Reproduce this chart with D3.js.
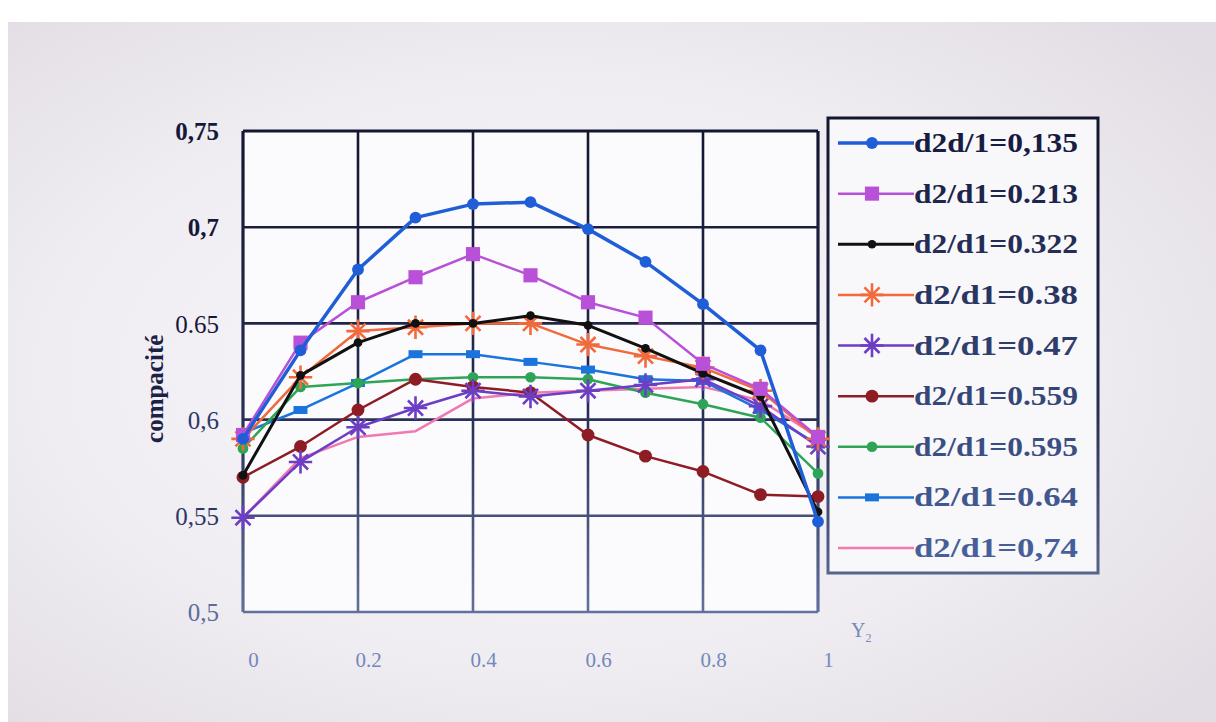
<!DOCTYPE html>
<html>
<head>
<meta charset="utf-8">
<script src="https://cdn.jsdelivr.net/npm/d3@7/dist/d3.min.js"></script>
<style>
  html, body { margin: 0; padding: 0; background: #ffffff; }
  svg { display: block; }
</style>
</head>
<body>
<svg id="chart" width="1216" height="722"></svg>
<script>
// ---------- data ----------
const xValues = [0, 0.1, 0.2, 0.3, 0.4, 0.5, 0.6, 0.7, 0.8, 0.9, 1];
const s0135 = [0.590, 0.636, 0.678, 0.705, 0.712, 0.713, 0.699, 0.682, 0.660, 0.636, 0.547];
const s0213 = [0.592, 0.640, 0.661, 0.674, 0.686, 0.675, 0.661, 0.653, 0.629, 0.616, 0.591];
const s0322 = [0.571, 0.623, 0.640, 0.650, 0.650, 0.654, 0.649, 0.637, 0.624, 0.612, 0.552];
const s038  = [0.590, 0.622, 0.646, 0.648, 0.650, 0.650, 0.639, 0.633, 0.627, 0.615, 0.590];
const s047  = [0.549, 0.578, 0.596, 0.606, 0.615, 0.612, 0.615, 0.618, 0.621, 0.607, 0.586];
const s0559 = [0.570, 0.586, 0.605, 0.621, 0.617, 0.614, 0.592, 0.581, 0.573, 0.561, 0.560];
const s0595 = [0.585, 0.617, 0.619, 0.621, 0.622, 0.622, 0.621, 0.614, 0.608, 0.601, 0.572];
const s064  = [0.593, 0.605, 0.619, 0.634, 0.634, 0.630, 0.626, 0.621, 0.620, 0.605, 0.587];
const s074  = [0.549, 0.580, 0.591, 0.594, 0.611, 0.614, 0.615, 0.616, 0.617, 0.610, 0.591];
const seriesNames = ["d2d/1=0,135", "d2/d1=0.213", "d2/d1=0.322", "d2/d1=0.38", "d2/d1=0.47",
                     "d2/d1=0.559", "d2/d1=0.595", "d2/d1=0.64", "d2/d1=0,74"];
const yTickValues = [0.5, 0.55, 0.6, 0.65, 0.7, 0.75];
const yTickLabels = ["0,5", "0,55", "0,6", "0.65", "0,7", "0,75"];
const xTickValues = [0, 0.2, 0.4, 0.6, 0.8, 1];
const xTickLabels = ["0", "0.2", "0.4", "0.6", "0.8", "1"];
const yTitle = "compacité";

// ---------- styles ----------
const seriesData = [s0135, s0213, s0322, s038, s047, s0559, s0595, s064, s074];
const styles = [
  { color: "#1f5ed6", width: 3.5, marker: "circle", size: 110 },
  { color: "#b850d8", width: 2.5, marker: "square", size: 200 },
  { color: "#111111", width: 3,   marker: "circle", size: 60 },
  { color: "#f26a3c", width: 2.5, marker: "star",   size: 150 },
  { color: "#6b3ec4", width: 2.5, marker: "star",   size: 150 },
  { color: "#8e1c24", width: 2.5, marker: "circle", size: 130 },
  { color: "#2ea456", width: 2.5, marker: "circle", size: 90 },
  { color: "#1b74dc", width: 2.5, marker: "rect",   size: 70 },
  { color: "#f07ab0", width: 2.5, marker: "none",   size: 0 }
];

const svg = d3.select("#chart");
const defs = svg.append("defs");

// photo-like background
const bg = defs.append("radialGradient").attr("id", "bgGrad")
  .attr("cx", "45%").attr("cy", "50%").attr("r", "70%");
bg.append("stop").attr("offset", "0%").attr("stop-color", "#f8f7fa");
bg.append("stop").attr("offset", "60%").attr("stop-color", "#efedf1");
bg.append("stop").attr("offset", "100%").attr("stop-color", "#e2dde4");
svg.append("rect").attr("width", 1216).attr("height", 722).attr("fill", "#ffffff");
svg.append("rect").attr("x", 8).attr("y", 22).attr("width", 1208).attr("height", 700).attr("fill", "url(#bgGrad)");

// grid gradient (dark at top, faded at bottom)
const gg = defs.append("linearGradient").attr("id", "gridGrad")
  .attr("gradientUnits", "userSpaceOnUse").attr("x1", 0).attr("y1", 120).attr("x2", 0).attr("y2", 640);
gg.append("stop").attr("offset", "0%").attr("stop-color", "#131630");
gg.append("stop").attr("offset", "55%").attr("stop-color", "#262c52");
gg.append("stop").attr("offset", "100%").attr("stop-color", "#6a7aa6");

const tg = defs.append("linearGradient").attr("id", "textGrad")
  .attr("gradientUnits", "userSpaceOnUse").attr("x1", 0).attr("y1", 120).attr("x2", 0).attr("y2", 580);
tg.append("stop").attr("offset", "0%").attr("stop-color", "#15183a");
tg.append("stop").attr("offset", "100%").attr("stop-color", "#4a64a0");

const x = d3.scaleLinear().domain([0, 1]).range([243, 818]);
const y = d3.scaleLinear().domain([0.5, 0.75]).range([612, 131]);

// legend box (drawn first so markers at x=1 sit over it)
const lgX = 828, lgY = 118, lgW = 270, lgH = 455;
svg.append("rect").attr("x", lgX).attr("y", lgY).attr("width", lgW).attr("height", lgH)
  .attr("fill", "#f8f8fa").attr("stroke", "url(#gridGrad)").attr("stroke-width", 3);

// plot area background
svg.append("rect").attr("x", x(0)).attr("y", y(0.75))
  .attr("width", x(1) - x(0)).attr("height", y(0.5) - y(0.75)).attr("fill", "#fbfbfd");

// gridlines
const grid = svg.append("g").attr("stroke", "url(#gridGrad)").attr("fill", "none");
grid.selectAll("line.h").data(yTickValues).join("line")
  .attr("x1", x(0)).attr("x2", x(1)).attr("y1", d => y(d)).attr("y2", d => y(d))
  .attr("stroke-width", d => d === 0.75 ? 3.2 : 2.6);
grid.selectAll("line.v").data(xTickValues).join("line")
  .attr("class", "v")
  .attr("x1", d => x(d)).attr("x2", d => x(d)).attr("y1", y(0.75)).attr("y2", y(0.5))
  .attr("stroke-width", d => (d === 0 || d === 1) ? 3.2 : 2.6);

// axes (labels only)
const yAxis = d3.axisLeft(y).tickValues(yTickValues).tickSize(0).tickPadding(0)
  .tickFormat((d, i) => yTickLabels[i]);
const gy = svg.append("g").attr("transform", `translate(${x(0) - 24},0)`).call(yAxis);
gy.select(".domain").remove();
gy.selectAll("text")
  .attr("font-family", "'Liberation Serif', 'DejaVu Serif', serif")
  .attr("font-size", 25)
  .attr("font-weight", (d) => d >= 0.7 ? "bold" : "normal")
  .attr("fill", d => d >= 0.65 ? "#15183a" : (d >= 0.55 ? "#2c3766" : "#5a6e9c"))
  .attr("dy", "0.35em");

const xAxis = d3.axisBottom(x).tickValues(xTickValues).tickSize(0).tickPadding(0)
  .tickFormat((d, i) => xTickLabels[i]);
const gx = svg.append("g").attr("transform", `translate(10,${y(0.5) + 40})`).call(xAxis);
gx.select(".domain").remove();
gx.selectAll("text")
  .attr("font-family", "'Liberation Serif', 'DejaVu Serif', serif")
  .attr("font-size", 21)
  .attr("fill", "#7388bb");

// x-axis name Y2
const yl = svg.append("text").attr("x", 851).attr("y", 637)
  .attr("font-family", "'Liberation Serif', serif").attr("font-size", 20).attr("fill", "#7388bb");
yl.append("tspan").text("Y");
yl.append("tspan").attr("font-size", 12).attr("dy", 5).text("2");

// y title
svg.append("text")
  .attr("transform", `translate(163,${y(0.616)}) rotate(-90)`)
  .attr("text-anchor", "middle")
  .attr("font-family", "'Liberation Serif', serif").attr("font-size", 25).attr("font-weight", "bold")
  .attr("fill", "#1c2148")
  .text(yTitle);

// marker drawing helper
function drawMarker(g, st, cx, cy) {
  if (st.marker === "circle") {
    g.append("path").attr("transform", `translate(${cx},${cy})`)
      .attr("d", d3.symbol(d3.symbolCircle, st.size)()).attr("fill", st.color);
  } else if (st.marker === "square") {
    g.append("path").attr("transform", `translate(${cx},${cy})`)
      .attr("d", d3.symbol(d3.symbolSquare, st.size)()).attr("fill", st.color);
  } else if (st.marker === "rect") {
    g.append("rect").attr("x", cx - 7).attr("y", cy - 4).attr("width", 14).attr("height", 8).attr("fill", st.color);
  } else if (st.marker === "star") {
    g.append("path").attr("transform", `translate(${cx},${cy})`)
      .attr("d", d3.symbol(d3.symbolTimes, st.size)()).attr("stroke", st.color).attr("stroke-width", 2.6).attr("fill", "none");
    g.append("path").attr("transform", `translate(${cx},${cy})`)
      .attr("d", d3.symbol(d3.symbolPlus, st.size * 1.2)()).attr("stroke", st.color).attr("stroke-width", 2.6).attr("fill", "none");
    g.append("path").attr("transform", `translate(${cx},${cy})`)
      .attr("d", d3.symbol(d3.symbolCircle, 30)()).attr("fill", st.color);
  }
}

// series (draw in reverse so first series is on top)
const line = d3.line().x((d, i) => x(xValues[i])).y(d => y(d));
const order = d3.range(seriesData.length).reverse();
order.forEach(k => {
  const st = styles[k];
  const g = svg.append("g");
  g.append("path").datum(seriesData[k]).attr("d", line)
    .attr("fill", "none").attr("stroke", st.color).attr("stroke-width", st.width)
    .attr("stroke-linejoin", "round");
  seriesData[k].forEach((v, i) => drawMarker(g, st, x(xValues[i]), y(v)));
});

// legend entries
const legendY = d3.scalePoint().domain(d3.range(seriesNames.length)).range([143, 548]);
seriesNames.forEach((name, k) => {
  const st = styles[k];
  const cy = legendY(k);
  const g = svg.append("g");
  g.append("line").attr("x1", lgX + 10).attr("x2", lgX + 86).attr("y1", cy).attr("y2", cy)
    .attr("stroke", st.color).attr("stroke-width", st.width);
  drawMarker(g, st, lgX + 44, cy);
  g.append("text").attr("x", lgX + 86).attr("y", cy + 9)
    .attr("font-family", "'Liberation Serif', 'DejaVu Serif', serif")
    .attr("font-size", 28).attr("font-weight", "bold")
    .attr("textLength", 164).attr("lengthAdjust", "spacingAndGlyphs")
    .attr("fill", "url(#textGrad)")
    .text(name);
});
</script>
</body>
</html>
